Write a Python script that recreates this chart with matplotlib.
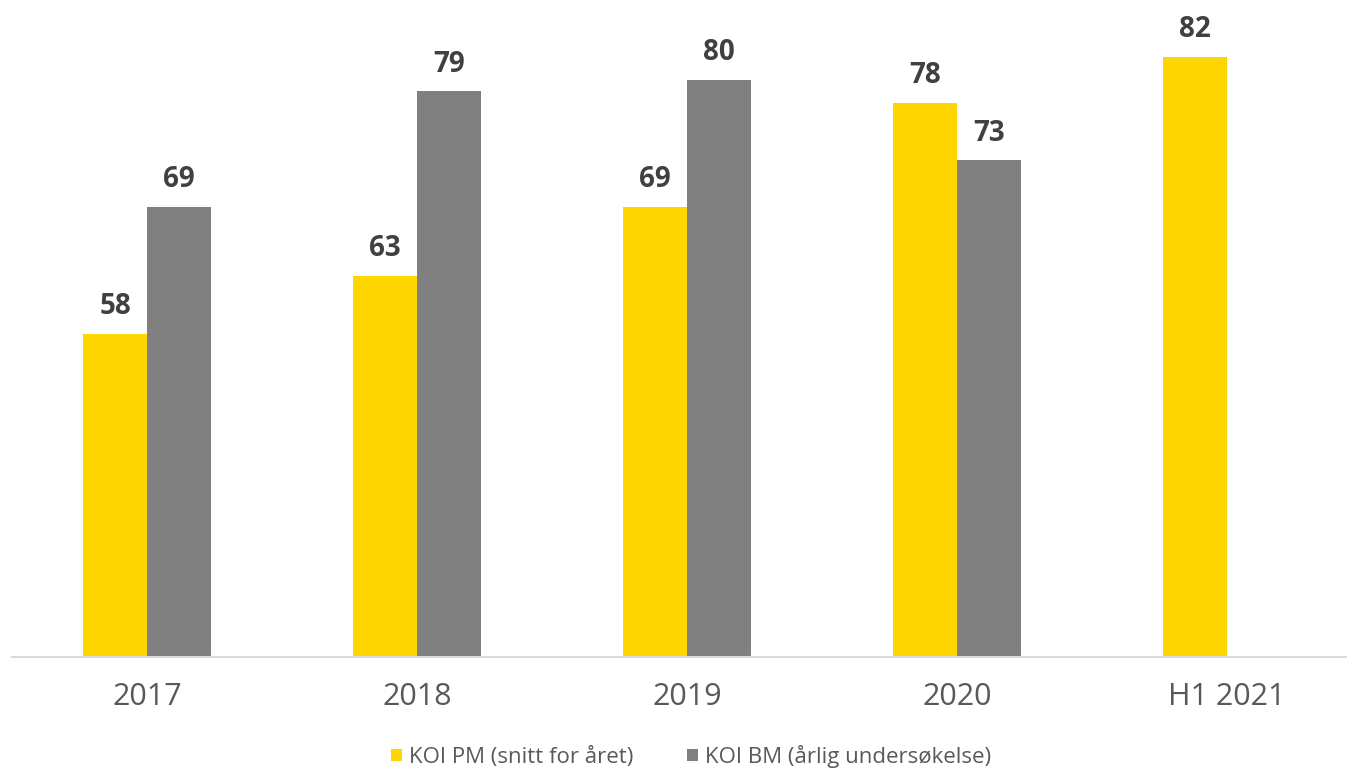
import matplotlib.pyplot as plt
import numpy as np

# data
categories = ["2017", "2018", "2019", "2020", "H1 2021"]
koi_pm = [58, 63, 69, 78, 82]
koi_bm = [69, 79, 80, 73, None]

yellow = "#FFD600"
grey = "#808080"
plt.rcParams['font.family'] = ['Open Sans', 'DejaVu Sans']

fig = plt.figure(figsize=(13.47, 7.71), dpi=100)
ax = fig.add_axes([12 / 1347, 114 / 771, 1335 / 1347, 657 / 771])

x = np.arange(len(categories))
w = 0.237

pm_bars = ax.bar(x - w / 2, koi_pm, w, color=yellow, label="KOI PM (snitt for året)")
bm_x = [xi + w / 2 for xi, v in zip(x, koi_bm) if v is not None]
bm_v = [v for v in koi_bm if v is not None]
bm_bars = ax.bar(bm_x, bm_v, w, color=grey, label="KOI BM (årlig undersøkelse)")

for bars in (pm_bars, bm_bars):
    for b in bars:
        h = b.get_height()
        ax.annotate(f"{h:.0f}", (b.get_x() + b.get_width() / 2, h),
                    xytext=(0, 9), textcoords="offset points",
                    ha="center", va="bottom", fontsize=20, fontweight="bold",
                    color="#404040")

ax.set_ylim(30, 86.9)
ax.set_xlim(-0.5, -0.5 + 1335 / 270)
ax.set_xticks(x)
ax.set_xticklabels(categories, fontsize=22, color="#595959")
ax.tick_params(axis="x", length=0, pad=18)
ax.set_yticks([])
for s in ("top", "right", "left"):
    ax.spines[s].set_visible(False)
ax.spines["bottom"].set_color("#d9d9d9")
ax.spines["bottom"].set_linewidth(1.5)

leg = fig.legend(loc="lower center", bbox_to_anchor=(0.513, -0.022), ncol=2,
                 frameon=False, fontsize=16, handlelength=0.5, handleheight=0.5,
                 handletextpad=0.3, columnspacing=2.4)
for t in leg.get_texts():
    t.set_color("#595959")

fig.savefig("out.png", dpi=100)
